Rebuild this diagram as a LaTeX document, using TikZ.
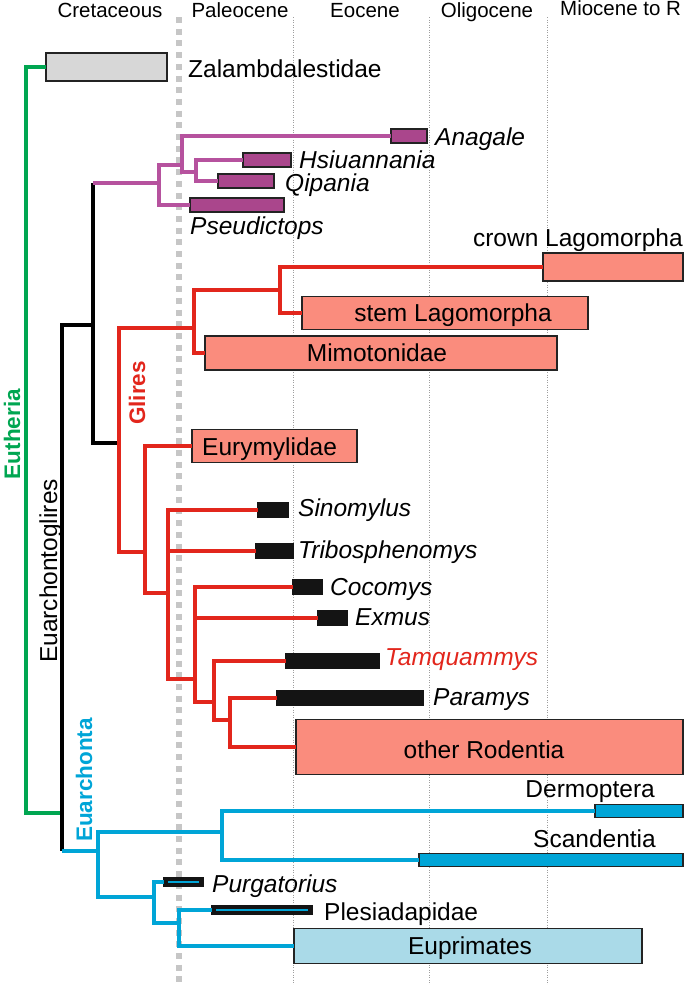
\documentclass[tikz,border=0pt]{standalone}
\usepackage{fontspec}
\setmainfont{Liberation Sans}
\definecolor{eugreen}{RGB}{0,166,81}
\definecolor{glred}{RGB}{226,38,28}
\definecolor{magline}{RGB}{182,82,158}
\definecolor{magfill}{RGB}{170,70,140}
\definecolor{salmon}{RGB}{250,140,125}
\definecolor{cyanl}{RGB}{0,165,215}
\definecolor{ltblue}{RGB}{170,218,232}
\definecolor{boxgray}{RGB}{215,215,215}
\definecolor{guidegray}{RGB}{198,198,198}
\definecolor{outl}{RGB}{35,35,35}
\definecolor{barblack}{RGB}{20,20,20}
\begin{document}
\begin{tikzpicture}[x=1pt,y=-1pt,
  tree/.style={line width=3.3pt},
  grn/.style={tree,draw=eugreen},
  blk/.style={tree,draw=black},
  redl/.style={tree,draw=glred},
  magl/.style={tree,draw=magline},
  cyl/.style={tree,draw=cyanl},
  bar/.style={draw=outl,line width=1.2pt,inner sep=0pt,outer sep=0pt,anchor=west,rectangle},
  magbar/.style={bar,fill=magfill},
  salbox/.style={bar,fill=salmon},
  blkbar/.style={bar,fill=barblack,draw=barblack},
  cybar/.style={bar,fill=cyanl},
  lab/.style={font=\fontsize{24.5}{28}\selectfont,inner sep=0pt},
  itlab/.style={font=\fontsize{24.5}{28}\selectfont\itshape,inner sep=0pt},
  hdr/.style={font=\fontsize{20.5}{24}\selectfont,inner sep=0pt,anchor=base},
  clade/.style={font=\fontsize{22.5}{26}\selectfont\bfseries,inner sep=0pt,rotate=90,anchor=base},
]
\useasboundingbox (0,0) rectangle (685,985);
% time guides
\draw[guidegray,line width=6pt,dash pattern=on 6pt off 5.7pt] (179,17) -- (179,985);
\foreach \gx in {293,429,547}
  \draw[guidegray!80!black,line width=0.7pt,dash pattern=on 1pt off 1.5pt] (\gx,17) -- (\gx,985);
% headers
\node[hdr] (hcre) at (110,17) {Cretaceous};
\node[hdr] (hpal) at (240,17) {Paleocene};
\node[hdr] (heoc) at (365,17) {Eocene};
\node[hdr] (holi) at (487,17) {Oligocene};
\node[hdr,anchor=base west] (hmio) at (560,15) {Miocene to R};

% junction coordinates
\coordinate (R) at (26,400);
\coordinate (E0) at (62,813);
\coordinate (Ec) at (62,851);
\coordinate (B1) at (93,325);
\coordinate (Bt) at (93,183);
\coordinate (M0) at (159,183);
\coordinate (M1) at (182,165);
\coordinate (M2) at (196,172);
\coordinate (G0) at (119,443);
\coordinate (L0) at (194,328);
\coordinate (L1) at (280,290);
\coordinate (G2) at (145,552);
\coordinate (G3) at (168,593);
\coordinate (G4) at (195,679);
\coordinate (G5) at (214,702);
\coordinate (G6) at (230,720);
\coordinate (C0) at (98,851);
\coordinate (C1) at (222,832);
\coordinate (C2) at (154,897);
\coordinate (C3) at (179,923);

% bars and boxes
\node[bar,fill=boxgray,minimum width=121,minimum height=28] (zal) at (46,67) {};
\node[magbar,minimum width=36,minimum height=14] (anag) at (391,136) {};
\node[magbar,minimum width=48,minimum height=14] (hsiu) at (243,160) {};
\node[magbar,minimum width=56,minimum height=14] (qip) at (218,181) {};
\node[magbar,minimum width=94,minimum height=14] (pseud) at (190,205) {};
\node[salbox,minimum width=140,minimum height=28] (crown) at (543,267) {};
\node[salbox,minimum width=286,minimum height=33] (stem) at (302,313) {};
\node[salbox,minimum width=352,minimum height=34] (mimo) at (205,353) {};
\node[salbox,minimum width=165,minimum height=33] (eury) at (192,446) {};
\node[blkbar,minimum width=30,minimum height=14] (sino) at (258,510) {};
\node[blkbar,minimum width=37,minimum height=15] (tribo) at (256,551) {};
\node[blkbar,minimum width=29,minimum height=14] (coco) at (293,587) {};
\node[blkbar,minimum width=29,minimum height=14] (exmus) at (318,618) {};
\node[blkbar,minimum width=93,minimum height=15] (tamq) at (286,661) {};
\node[blkbar,minimum width=146,minimum height=15] (para) at (277,698) {};
\node[salbox,minimum width=387,minimum height=55] (rod) at (296,747) {};
\node[cybar,minimum width=88,minimum height=13] (derm) at (595,811) {};
\node[cybar,minimum width=264,minimum height=13] (scan) at (419,860) {};
\node[blkbar,minimum width=39,minimum height=9] (purg) at (164,882) {};
\node[blkbar,minimum width=100,minimum height=9] (ples) at (212,910) {};
\node[bar,fill=ltblue,minimum width=348,minimum height=35] (eupr) at (294,946) {};
\draw[cyanl,line width=1.3pt] ([xshift=4pt]purg.west) -- ([xshift=-4pt]purg.east);
\draw[cyanl,line width=1.3pt] ([xshift=4pt]ples.west) -- ([xshift=-4pt]ples.east);

% tree lines (drawn behind bars)
\begin{scope}[on background layer/.style={}]
\end{scope}
\draw[grn] (zal.west) -| (R) |- (E0);
\draw[blk] (Bt) -- (B1) |- (G0);
\draw[blk] (B1) -| (E0) -- (Ec);
\draw[magl] (Bt) -- (M0);
\draw[magl] (M1) -| (M0) |- (pseud.west);
\draw[magl] (anag.west) -| (M1) |- (M2);
\draw[magl] (hsiu.west) -| (M2) |- (qip.west);
\draw[redl] (L0) -| (G0) |- (G2);
\draw[redl] (L1) -| (L0) |- (mimo.west);
\draw[redl] (crown.west) -| (L1) |- (stem.west);
\draw[redl] (eury.west) -| (G2) |- (G3);
\draw[redl] (sino.west) -| (G3) |- (G4);
\draw[redl] (tribo.west) -- (tribo.west -| G3);
\draw[redl] (coco.west) -| (G4) |- (G5);
\draw[redl] (exmus.west) -- (exmus.west -| G4);
\draw[redl] (tamq.west) -| (G5) |- (G6);
\draw[redl] (para.west) -| (G6) |- (rod.west);
\draw[cyl] (Ec) -- (C0);
\draw[cyl] (C1) -| (C0) |- (C2);
\draw[cyl] (derm.west) -| (C1) |- (scan.west);
\draw[cyl] (purg.west) -| (C2) |- (C3);
\draw[cyl] (ples.west) -| (C3) |- (eupr.west);

% labels
\node[lab,anchor=base west] (tzal) at (188,77) {Zalambdalestidae};
\node[itlab,anchor=base west] (tanag) at (435,145) {Anagale};
\node[itlab,anchor=base west] (thsiu) at (299,168) {Hsiuannania};
\node[itlab,anchor=base west] (tqip) at (285,191) {Qipania};
\node[itlab,anchor=base west] (tpseud) at (190,234) {Pseudictops};
\node[lab,anchor=base east] (tcrown) at (683,246) {crown Lagomorpha};
\node[lab,anchor=base] (tstem) at (453,321) {stem Lagomorpha};
\node[lab,anchor=base] (tmimo) at (377,361) {Mimotonidae};
\node[lab,anchor=base west] (teury) at (202,455) {Eurymylidae};
\node[itlab,anchor=base west] (tsino) at (298,516) {Sinomylus};
\node[itlab,anchor=base west] (ttribo) at (298,558) {Tribosphenomys};
\node[itlab,anchor=base west] (tcoco) at (330,595) {Cocomys};
\node[itlab,anchor=base west] (texmus) at (355,625) {Exmus};
\node[itlab,anchor=base west,text=glred] (ttamq) at (385,665) {Tamquammys};
\node[itlab,anchor=base west] (tpara) at (433,705) {Paramys};
\node[lab,anchor=base] (trod) at (484,758) {other Rodentia};
\node[lab,anchor=base east] (tderm) at (655,797) {Dermoptera};
\node[lab,anchor=base east] (tscan) at (656,847) {Scandentia};
\node[itlab,anchor=base west] (tpurg) at (212,892) {Purgatorius};
\node[lab,anchor=base west] (tples) at (324,920) {Plesiadapidae};
\node[lab,anchor=base] (teupr) at (470,954) {Euprimates};
% clade names
\node[clade,text=eugreen] (teuth) at (20,434) {Eutheria};
\node[clade,font=\fontsize{24.5}{28}\selectfont] (teuag) at (57,571) {Euarchontoglires};
\node[clade,text=glred] (tglir) at (145,393) {Glires};
\node[clade,text=cyanl] (teuarch) at (92,780) {Euarchonta};
\end{tikzpicture}
\end{document}
